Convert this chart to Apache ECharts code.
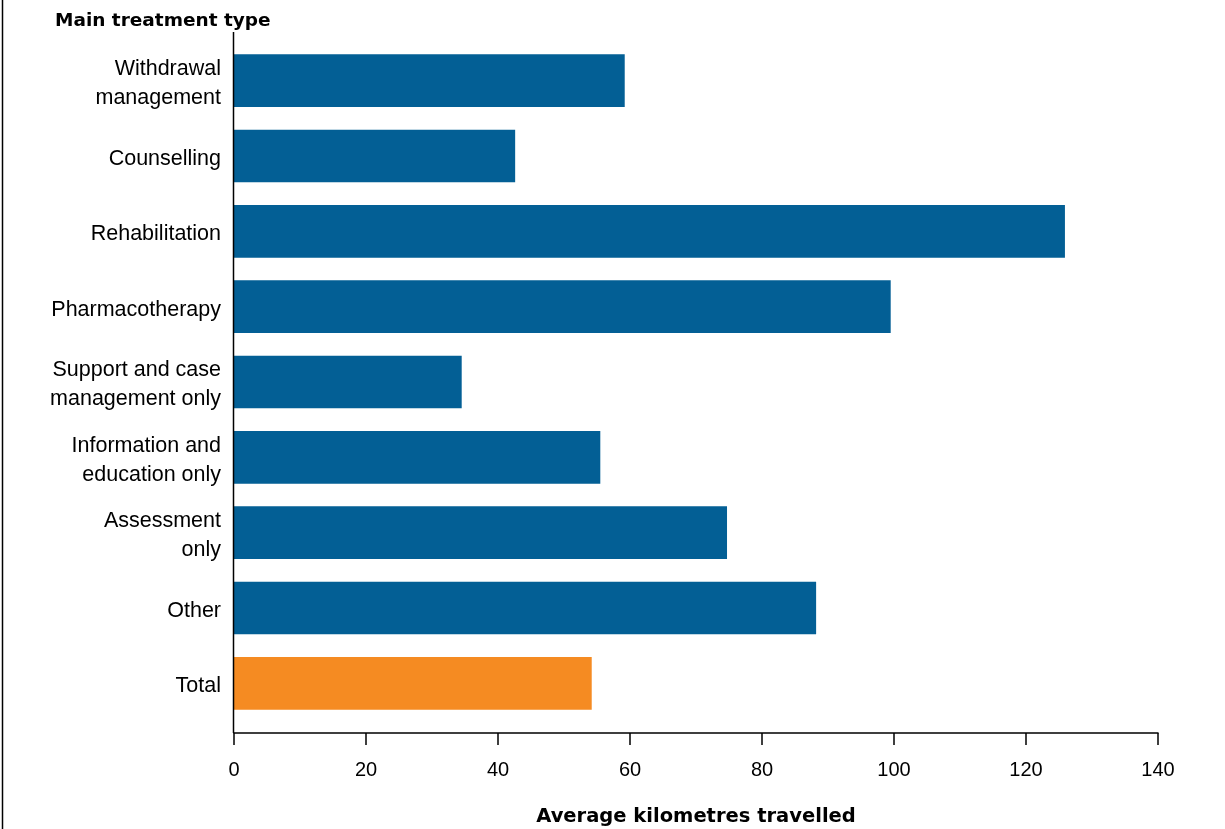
<!DOCTYPE html>
<html>
<head>
<meta charset="utf-8">
<script src="https://cdn.jsdelivr.net/npm/echarts@6/dist/echarts.min.js"></script>
<style>html,body{margin:0;padding:0;background:#fff}#c{width:1225px;height:829px}</style>
</head>
<body>
<div id="c"></div>
<script>
const categories = ['Withdrawal\nmanagement','Counselling','Rehabilitation','Pharmacotherapy','Support and case\nmanagement only','Information and\neducation only','Assessment\nonly','Other','Total'];
const values = [59.2, 42.6, 125.9, 99.5, 34.5, 55.5, 74.7, 88.2, 54.2];
const xTicks = [0, 20, 40, 60, 80, 100, 120, 140];
const yTitle = 'Main treatment type';
const xTitle = 'Average kilometres travelled';
const blue = '#035f95', orange = '#f58b22';

const chart = echarts.init(document.getElementById('c'), null, {renderer: 'canvas'});
chart.setOption({
  animation: false,
  backgroundColor: '#fff',
  grid: {left: 234, right: 1225 - 1158, top: 43, bottom: 829 - 721, containLabel: false, outerBoundsMode: 'none'},
  xAxis: {
    type: 'value', min: xTicks[0], max: xTicks[xTicks.length - 1], interval: 20,
    offset: 12,
    splitLine: {show: false},
    axisLine: {show: true, lineStyle: {color: '#000', width: 1.5}},
    axisTick: {show: true, length: 12, lineStyle: {color: '#000', width: 1.5}},
    axisLabel: {color: '#000', fontFamily: 'Liberation Sans, Arial', fontSize: 20, margin: 27},
    name: xTitle, nameLocation: 'middle', nameGap: 74,
    nameTextStyle: {color: '#000', fontFamily: 'DejaVu Sans', fontSize: 19.5, fontWeight: 'bold'}
  },
  yAxis: {
    type: 'category', data: categories, inverse: true,
    axisLine: {show: false},
    axisTick: {show: false},
    axisLabel: {
      color: '#000', margin: 13, align: 'right',
      formatter: v => v.split('\n').map(s => '{a|' + s + '}').join('\n'),
      rich: {a: {fontFamily: 'Liberation Sans, Arial', fontSize: 21.5, color: '#000', lineHeight: 29, padding: [6, 0, 0, 0]}}
    }
  },
  graphic: [
    {type: 'line', shape: {x1: 233.5, y1: 32, x2: 233.5, y2: 733}, style: {stroke: '#000', lineWidth: 1.5}, z: 10},
    {type: 'line', shape: {x1: 2.5, y1: 0, x2: 2.5, y2: 829}, style: {stroke: '#000', lineWidth: 1.5}},
    {type: 'text', left: 55, top: 12, style: {text: yTitle, fill: '#000', font: 'bold 18.5px "DejaVu Sans"'}}
  ],
  series: [{
    type: 'bar',
    barCategoryGap: '30%',
    data: values.map((v, i) => ({value: v, itemStyle: {color: i === values.length - 1 ? orange : blue}}))
  }]
});
</script>
</body>
</html>
